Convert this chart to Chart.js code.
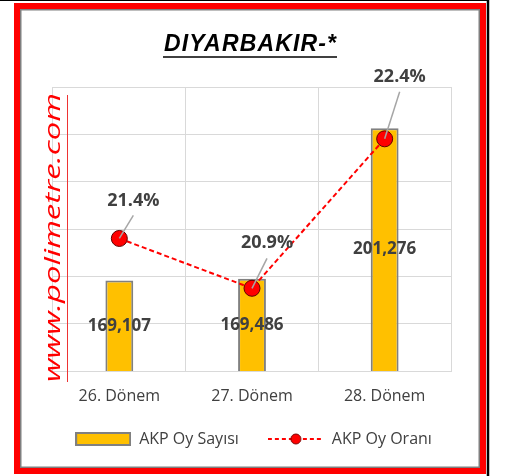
<!DOCTYPE html>
<html><head><meta charset="utf-8">
<style>html,body{margin:0;padding:0;background:#fff;}canvas{display:block;}</style>
<script src="https://cdn.jsdelivr.net/npm/chart.js@4.4.1/dist/chart.umd.min.js"></script>
</head><body>
<canvas id="c" width="507" height="476"></canvas>
<script>
const titleText = 'DIYARBAKIR-*';
const watermarkText = 'www.polimetre.com';
const categories = ['26. Dönem', '27. Dönem', '28. Dönem'];
const voteCounts = [169107, 169486, 201276];
const voteShares = [21.4, 20.9, 22.4];
const seriesNames = ['AKP Oy Sayısı', 'AKP Oy Oranı'];
const voteAxis = { min: 150000, max: 210000, step: 10000 };
const shareAxis = { min: 20.07, max: 22.92 };
const shareLabelOffsets = [[14, -38], [15, -45], [15, -62]];

const FONT = "'Open Sans', sans-serif";
Chart.defaults.font.family = FONT;

function makeIcon(kind) {
  const cv = document.createElement('canvas');
  cv.width = 56; cv.height = 14;
  const g = cv.getContext('2d');
  if (kind === 'bar') {
    g.fillStyle = '#FFC000';
    g.fillRect(1, 1, 54, 12);
    g.strokeStyle = '#808080'; g.lineWidth = 2;
    g.strokeRect(1, 1, 54, 12);
  } else {
    g.strokeStyle = '#FF0000'; g.lineWidth = 2; g.setLineDash([4, 3]);
    g.beginPath(); g.moveTo(0, 7); g.lineTo(56, 7); g.stroke();
    g.setLineDash([]);
    g.beginPath(); g.arc(28, 7, 5, 0, Math.PI * 2);
    g.fillStyle = '#FF0000'; g.fill();
    g.strokeStyle = '#7a0000'; g.lineWidth = 1; g.stroke();
  }
  return cv;
}
const barIcon = makeIcon('bar');
const lineIcon = makeIcon('line');

const decor = {
  id: 'decor',
  beforeDraw(chart) {
    const ctx = chart.ctx;
    ctx.save(); ctx.fillStyle = '#fff'; ctx.fillRect(0, 0, chart.width, chart.height); ctx.restore();
  },
  afterDatasetsDraw(chart) {
    const ctx = chart.ctx;
    ctx.save();
    ctx.textAlign = 'center'; ctx.textBaseline = 'middle';
    ctx.fillStyle = '#404040';
    ctx.font = 'bold 17px ' + FONT;
    const yScale = chart.scales.y;
    chart.getDatasetMeta(0).data.forEach((el, i) => {
      const p = el.getProps(['x', 'y'], true);
      const top = yScale.getPixelForValue(voteCounts[i]);
      const base = yScale.getPixelForValue(voteAxis.min);
      ctx.fillText(voteCounts[i].toLocaleString('en-US'), p.x, (top + base) / 2);
    });
    ctx.font = 'bold 18px ' + FONT;
    chart.getDatasetMeta(1).data.forEach((el, i) => {
      const p = el.getProps(['x', 'y'], true);
      const lx = p.x + shareLabelOffsets[i][0], ly = p.y + shareLabelOffsets[i][1];
      ctx.strokeStyle = '#a6a6a6'; ctx.lineWidth = 1.5;
      ctx.beginPath(); ctx.moveTo(p.x, p.y); ctx.lineTo(lx, ly + 15); ctx.stroke();
      ctx.fillStyle = '#404040';
      ctx.fillText(voteShares[i].toFixed(1) + '%', lx, ly);
    });
    ctx.restore();
  },
  afterDraw(chart) {
    const ctx = chart.ctx;
    ctx.save();
    ctx.translate(60, 382);
    ctx.rotate(-Math.PI / 2);
    ctx.font = 'italic 21px ' + FONT;
    const ww = ctx.measureText(watermarkText).width;
    ctx.scale(289 / ww, 1);
    ctx.fillStyle = '#FF0000';
    ctx.textBaseline = 'alphabetic'; ctx.textAlign = 'left';
    ctx.fillText(watermarkText, 0, 0);
    ctx.restore();
    ctx.save();
    ctx.strokeStyle = '#ee3333'; ctx.lineWidth = 1;
    ctx.beginPath(); ctx.moveTo(67.5, 95); ctx.lineTo(67.5, 382); ctx.stroke();
    ctx.font = "italic bold 23px 'Liberation Sans', Arial, sans-serif";
    ctx.fillStyle = '#000';
    ctx.textAlign = 'left'; ctx.textBaseline = 'alphabetic';
    const tw = ctx.measureText(titleText).width;
    const target = 172;
    const ls = Math.max(0, (target - tw) / (titleText.length - 1));
    ctx.letterSpacing = ls.toFixed(2) + 'px';
    ctx.fillText(titleText, 164, 51);
    ctx.letterSpacing = '0px';
    ctx.strokeStyle = '#000'; ctx.lineWidth = 1.5;
    ctx.beginPath(); ctx.moveTo(163, 57); ctx.lineTo(337, 57); ctx.stroke();
    ctx.strokeStyle = '#FF0000'; ctx.lineWidth = 6;
    ctx.strokeRect(17, 6, 466, 465);
    ctx.strokeStyle = '#7f7f7f'; ctx.lineWidth = 1.5;
    ctx.strokeRect(20.75, 9.75, 458.5, 457.5);
    ctx.strokeStyle = '#000'; ctx.lineWidth = 1;
    ctx.beginPath(); ctx.moveTo(0, 0.5); ctx.lineTo(489, 0.5); ctx.stroke();
    ctx.lineWidth = 2.5;
    ctx.beginPath(); ctx.moveTo(488, 0); ctx.lineTo(488, 476); ctx.stroke();
    ctx.restore();
  }
};

new Chart(document.getElementById('c'), {
  data: {
    labels: categories,
    datasets: [
      {
        type: 'bar', label: seriesNames[0], data: voteCounts, yAxisID: 'y', order: 2,
        backgroundColor: '#FFC000', borderColor: '#808080', borderWidth: 2,
        barPercentage: 0.21, categoryPercentage: 1
      },
      {
        type: 'line', label: seriesNames[1], data: voteShares, yAxisID: 'y2', order: 1,
        borderColor: '#FF0000', borderWidth: 2, borderDash: [5, 3], tension: 0, fill: false,
        pointRadius: 8, pointBackgroundColor: '#FF0000', pointBorderColor: '#600000', pointBorderWidth: 1
      }
    ]
  },
  options: {
    responsive: false, animation: false, devicePixelRatio: 1,
    layout: { padding: { left: 20, right: 20, top: 87, bottom: 19 } },
    plugins: {
      title: { display: false },
      tooltip: { enabled: false },
      legend: {
        position: 'bottom',
        labels: {
          usePointStyle: true, pointStyleWidth: 56, padding: 29, color: '#404040',
          font: { size: 16 },
          generateLabels() {
            return [
              { text: seriesNames[0], pointStyle: barIcon, datasetIndex: 0, hidden: false, lineWidth: 0, fontColor: '#404040' },
              { text: seriesNames[1], pointStyle: lineIcon, datasetIndex: 1, hidden: false, lineWidth: 0, fontColor: '#404040' }
            ];
          }
        }
      }
    },
    scales: {
      x: {
        grid: { color: '#d9d9d9', lineWidth: 1, drawTicks: false, offset: true },
        border: { color: '#d9d9d9' },
        ticks: { padding: 16, color: '#404040', font: { size: 16 } },
        afterFit(scale) { scale.height = 31; }
      },
      y: {
        position: 'left', min: voteAxis.min, max: voteAxis.max,
        ticks: { display: false, stepSize: voteAxis.step },
        grid: { color: '#d9d9d9', lineWidth: 1, drawTicks: false },
        border: { display: false },
        afterFit(scale) { scale.width = 33; }
      },
      y2: {
        display: true, position: 'right', min: shareAxis.min, max: shareAxis.max,
        ticks: { display: false }, grid: { display: false }, border: { display: false },
        afterFit(scale) { scale.width = 36; }
      }
    }
  },
  plugins: [decor]
});
</script>
</body></html>
